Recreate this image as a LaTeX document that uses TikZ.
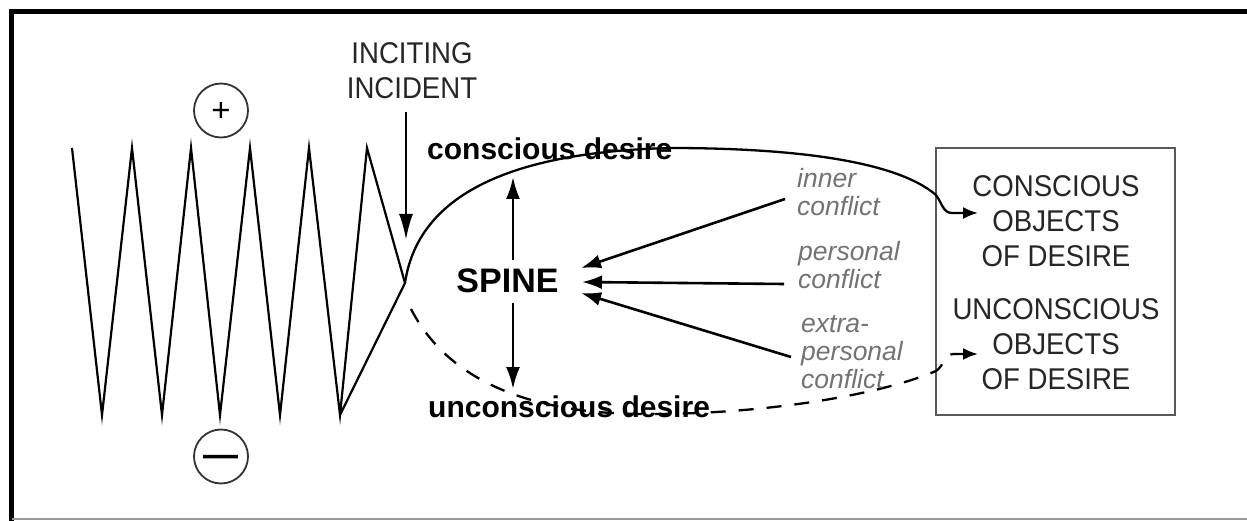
\documentclass[tikz,border=0pt]{standalone}
\usepackage{fontspec}
\setmainfont{Liberation Sans}
\newfontfamily\capsf[FakeStretch=0.92]{Liberation Sans}
\usetikzlibrary{arrows.meta}
\tikzset{
  zz/.style={line width=2.2pt, line join=miter},
  arr/.style={line width=2.6pt, -{Latex[length=20pt,width=14pt]}},
  circ/.style={circle, draw=black!80, line width=1.8pt, minimum size=54pt, inner sep=0pt},
  objbox/.style={draw=black!65, line width=2pt, minimum width=239pt, minimum height=267pt, inner sep=0pt},
  capstxt/.style={font=\capsf\fontsize{30}{35}\selectfont, text=black!85, align=center, inner sep=0pt, anchor=north},
  desirelbl/.style={font=\bfseries\fontsize{30}{35}\selectfont, inner sep=0pt, anchor=base west},
  conf/.style={font=\itshape\fontsize{26.5}{28}\selectfont, text=black!55, align=left, inner sep=0pt, anchor=north west},
  curve/.style={line width=2.3pt},
  dcurve/.style={line width=2.3pt, dash pattern=on 15pt off 13pt}
}
\begin{document}
\begin{tikzpicture}[x=1pt,y=-1pt]
\useasboundingbox (0,0) rectangle (1247,521);
\fill[white] (0,0) rectangle (1247,521);
% frame
\draw[line width=4.5pt] (11.5,521) -- (11.5,11.5) -- (1247,11.5);
\draw[black!40, line width=1.5pt] (11.5,518.8) -- (1247,518.8);

% plus / minus circles
\node[circ] (plus) at (221,110.5) {};
\node[circ] (minus) at (221,456.5) {};
\node[font=\fontsize{33}{33}\selectfont, inner sep=0pt, anchor=base] (plussign) at (221,122) {+};
\node[font=\bfseries\fontsize{35}{35}\selectfont, inner sep=0pt, anchor=base] (minussign) at (221,466) {—};

% zigzag
\coordinate (X) at (405,283);
\draw[zz] (72,148) -- (102,415) -- (132,148) -- (162,415) -- (191,148) -- (220,415)
  -- (250,148) -- (280,415) -- (309,148) -- (340,415) -- (367,148) -- (X) -- (340,415);

% inciting incident
\node[capstxt] (inciting) at (412,42) {INCITING\\INCIDENT};
\coordinate (inctop) at (406,112);
\coordinate (inctip) at (406,240);
\draw[arr, -{Latex[length=26pt,width=14pt]}] (inctop) -- (inctip);

% box
\node[objbox] (box) at (1055.5,281.5) {};
\node[capstxt] (cobj) at (1056,175) {CONSCIOUS\\OBJECTS\\OF DESIRE};
\node[capstxt] (uobj) at (1056,298) {UNCONSCIOUS\\OBJECTS\\OF DESIRE};

% conscious curve
\coordinate (cEnd) at (978,213);
\draw[curve, -{Latex[length=15pt,width=12pt]}] (X) .. controls (418,195) and (510,152) .. (670,148)
  .. controls (790,148) and (895,160) .. (936,195)
  .. controls (942,203) and (943,213) .. (952,213) -- (cEnd);

% unconscious dashed curve
\coordinate (d0) at (411,309);
\coordinate (uEnd) at (978,354);
\draw[dcurve, -{Latex[length=15pt,width=12pt]}] (d0) .. controls (445,375) and (520,413) .. (640,414)
  .. controls (770,415) and (885,393) .. (936,371)
  .. controls (944,366) and (944,354) .. (954,354) -- (uEnd);

% desire labels
\node[desirelbl] (cdes) at (427,160) {conscious desire};
\node[desirelbl] (udes) at (428,417) {unconscious desire};

% spine
\node[font=\bfseries\fontsize{34}{34}\selectfont, inner sep=0pt, anchor=base] (spine) at (507.5,292) {SPINE};
\coordinate (spu0) at (513,260);
\coordinate (spu1) at (513,177);
\coordinate (spd0) at (513,303);
\coordinate (spd1) at (513,389);
\draw[arr, -{Latex[length=22pt,width=14pt]}] (spu0) -- (spu1);
\draw[arr, -{Latex[length=22pt,width=14pt]}] (spd0) -- (spd1);

% conflicts
\node[conf] (inner) at (797,168) {inner\\conflict};
\node[conf] (pers) at (798,241) {personal\\conflict};
\node[conf] (extra) at (801,315) {extra-\\personal\\conflict};
\coordinate (a1) at (785,199);
\coordinate (t1) at (581,268);
\coordinate (a2) at (784,284);
\coordinate (t2) at (582,282);
\coordinate (a3) at (791,357);
\coordinate (t3) at (581,293);
\draw[arr] (a1) -- (t1);
\draw[arr] (a2) -- (t2);
\draw[arr] (a3) -- (t3);
\end{tikzpicture}
\end{document}
